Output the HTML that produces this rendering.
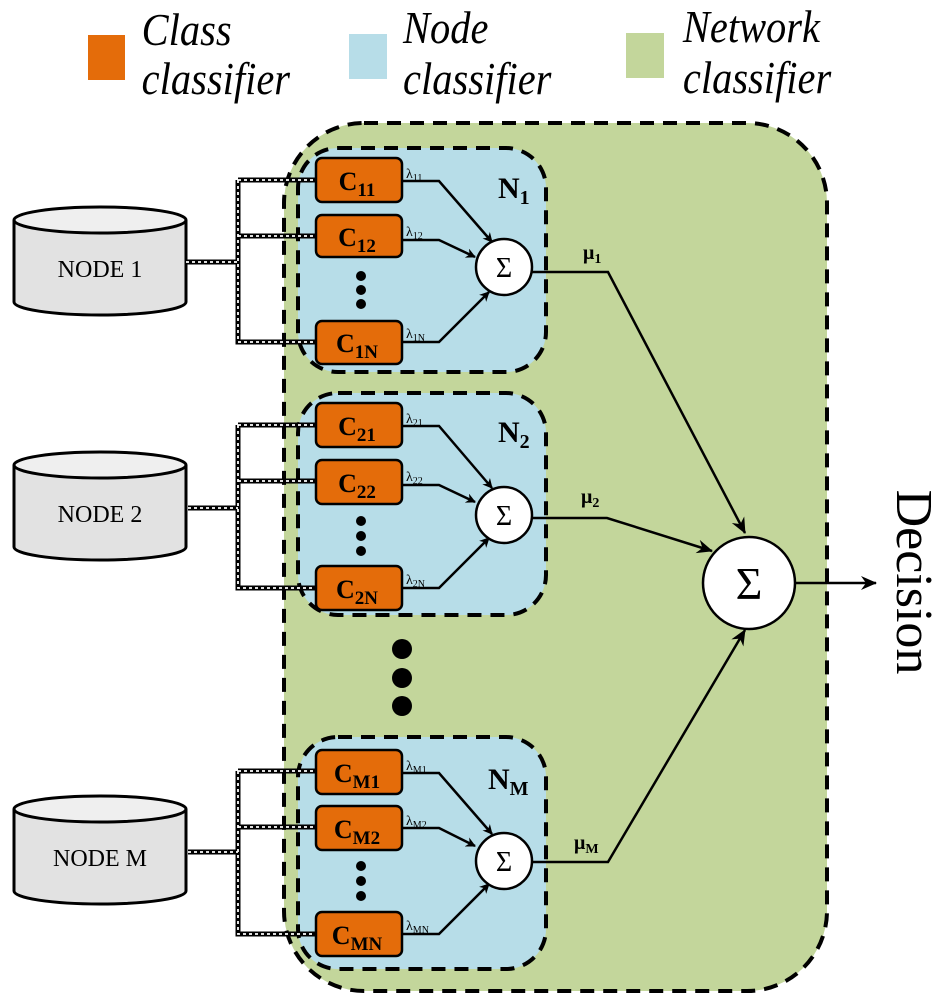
<!DOCTYPE html>
<html><head><meta charset="utf-8"><style>
html,body{margin:0;padding:0;background:#fff;}
svg{display:block;}
text{font-family:"Liberation Serif",serif;}
</style></head><body>
<svg width="947" height="1000" viewBox="0 0 947 1000" xmlns="http://www.w3.org/2000/svg">
<defs>
<marker id="ah" markerWidth="10" markerHeight="10" refX="9" refY="5" orient="auto" markerUnits="userSpaceOnUse" viewBox="0 0 10 10"><path d="M0,0 L10,5 L0,10 L3,5 Z" fill="#000"/></marker>
<marker id="ah2" markerWidth="16" markerHeight="16" refX="15" refY="8" orient="auto" markerUnits="userSpaceOnUse" viewBox="0 0 16 16"><path d="M0,1 L16,8 L0,15 L5,8 Z" fill="#000"/></marker>
</defs>
<!-- legend -->
<rect x="88" y="35" width="37" height="45" fill="#e46c0a"/>
<rect x="349" y="34" width="38" height="45" fill="#b7dde8"/>
<rect x="626" y="33" width="38" height="45" fill="#c3d69b"/>
<g font-style="italic" font-size="46" transform="scale(0.88,1)">
<text x="161" y="45">Class</text><text x="161" y="94">classifier</text>
<text x="458" y="43">Node</text><text x="458" y="94">classifier</text>
<text x="776" y="42">Network</text><text x="776" y="93">classifier</text>
</g>
<!-- network region -->
<rect x="284" y="123" width="543" height="868" rx="80" fill="#c3d69b" stroke="#000" stroke-width="4" stroke-dasharray="14,9"/>
<!-- node panels -->
<g fill="#b7dde8" stroke="#000" stroke-width="4" stroke-dasharray="14,9">
<rect x="298" y="148" width="248" height="224" rx="40"/>
<rect x="298" y="393" width="248" height="222" rx="40"/>
<rect x="298" y="737" width="248" height="232" rx="40"/>
</g>
<!-- cylinders -->
<g stroke="#000" stroke-width="3">
<g>
<path d="M14,220 L14,302 A86,13 0 0 0 186,302 L186,220" fill="#e2e2e2"/>
<ellipse cx="100" cy="220" rx="86" ry="13" fill="#efefef"/>
</g>
<g transform="translate(0,245)"><path d="M14,220 L14,302 A86,13 0 0 0 186,302 L186,220" fill="#e2e2e2"/><ellipse cx="100" cy="220" rx="86" ry="13" fill="#efefef"/></g>
<g transform="translate(0,589)"><path d="M14,220 L14,302 A86,13 0 0 0 186,302 L186,220" fill="#e2e2e2"/><ellipse cx="100" cy="220" rx="86" ry="13" fill="#efefef"/></g>
</g>
<g font-size="24" text-anchor="middle">
<text x="100" y="277">NODE 1</text>
<text x="100" y="522">NODE 2</text>
<text x="100" y="866">NODE M</text>
</g>
<!-- dotted connectors -->
<g fill="none">
<g stroke="#000" stroke-width="5">
<path d="M186,262 H238 M238,180 V342 H316 M238,180 H316 M238,236 H316"/>
<path d="M188,508 H238 M238,425 V588 H316 M238,425 H316 M238,481 H316"/>
<path d="M188,852 H238 M238,771 V934 H316 M238,771 H316 M238,827 H316"/>
</g>
<g stroke="#fff" stroke-width="1.8" stroke-dasharray="3,3">
<path d="M186,262 H238 M238,180 V342 H316 M238,180 H316 M238,236 H316"/>
<path d="M188,508 H238 M238,425 V588 H316 M238,425 H316 M238,481 H316"/>
<path d="M188,852 H238 M238,771 V934 H316 M238,771 H316 M238,827 H316"/>
</g>
</g>
<!-- class boxes -->
<g fill="#e46c0a" stroke="#000" stroke-width="2.5">
<rect x="316" y="158" width="86" height="44" rx="6"/>
<rect x="316" y="215" width="86" height="42" rx="6"/>
<rect x="316" y="321" width="86" height="43" rx="6"/>
<rect x="316" y="403" width="86" height="44" rx="6"/>
<rect x="316" y="460" width="86" height="44" rx="6"/>
<rect x="316" y="566" width="86" height="44" rx="6"/>
<rect x="316" y="750" width="86" height="44" rx="6"/>
<rect x="316" y="806" width="86" height="44" rx="6"/>
<rect x="316" y="912" width="86" height="44" rx="6"/>
</g>
<g font-size="26" font-weight="bold" text-anchor="middle">
<text x="357" y="190">C<tspan font-size="19" dy="6">11</tspan></text>
<text x="357" y="246">C<tspan font-size="19" dy="6">12</tspan></text>
<text x="357" y="352">C<tspan font-size="19" dy="6">1N</tspan></text>
<text x="357" y="435">C<tspan font-size="19" dy="6">21</tspan></text>
<text x="357" y="492">C<tspan font-size="19" dy="6">22</tspan></text>
<text x="357" y="598">C<tspan font-size="19" dy="6">2N</tspan></text>
<text x="357" y="782">C<tspan font-size="19" dy="6">M1</tspan></text>
<text x="357" y="838">C<tspan font-size="19" dy="6">M2</tspan></text>
<text x="357" y="944">C<tspan font-size="19" dy="6">MN</tspan></text>
</g>
<!-- small dots -->
<g fill="#000">
<circle cx="361" cy="276" r="5"/><circle cx="361" cy="290" r="5"/><circle cx="361" cy="304" r="5"/>
<circle cx="361" cy="521" r="5"/><circle cx="361" cy="536" r="5"/><circle cx="361" cy="551" r="5"/>
<circle cx="361" cy="866" r="5"/><circle cx="361" cy="881" r="5"/><circle cx="361" cy="896" r="5"/>
<circle cx="402" cy="649" r="10"/><circle cx="402" cy="678" r="10"/><circle cx="402" cy="706" r="10"/>
</g>
<!-- lambda lines -->
<g fill="none" stroke="#000" stroke-width="2.5" marker-end="url(#ah)">
<path d="M402,181 H439 L492,242"/>
<path d="M402,240 H439 L475,257"/>
<path d="M402,342 H439 L489,292"/>
<path d="M402,426 H439 L492,488"/>
<path d="M402,485 H439 L475,502"/>
<path d="M402,588 H439 L489,538"/>
<path d="M402,773 H439 L492,834"/>
<path d="M402,828 H439 L475,846"/>
<path d="M402,934 H439 L489,884"/>
</g>
<g font-size="14">
<text x="406" y="178">λ<tspan font-size="10" dy="3">11</tspan></text>
<text x="406" y="236">λ<tspan font-size="10" dy="3">12</tspan></text>
<text x="406" y="338">λ<tspan font-size="10" dy="3">1N</tspan></text>
<text x="406" y="423">λ<tspan font-size="10" dy="3">21</tspan></text>
<text x="406" y="481">λ<tspan font-size="10" dy="3">22</tspan></text>
<text x="406" y="584">λ<tspan font-size="10" dy="3">2N</tspan></text>
<text x="406" y="770">λ<tspan font-size="10" dy="3">M1</tspan></text>
<text x="406" y="825">λ<tspan font-size="10" dy="3">M2</tspan></text>
<text x="406" y="930">λ<tspan font-size="10" dy="3">MN</tspan></text>
</g>
<!-- N labels -->
<g font-size="30" font-weight="bold">
<text x="498" y="198">N<tspan font-size="20" dy="6">1</tspan></text>
<text x="498" y="442">N<tspan font-size="20" dy="6">2</tspan></text>
<text x="488" y="789">N<tspan font-size="20" dy="6">M</tspan></text>
</g>
<!-- mu lines -->
<g fill="none" stroke="#000" stroke-width="2.5">
<path d="M532,272 H608 L745,533" marker-end="url(#ah2)"/>
<path d="M532,518 H607 L712,551" marker-end="url(#ah2)"/>
<path d="M532,862 H608 L745,630" marker-end="url(#ah2)"/>
<path d="M795,583 H876" marker-end="url(#ah2)"/>
</g>
<g font-size="20" font-weight="bold">
<text x="583" y="259">μ<tspan font-size="14" dy="4">1</tspan></text>
<text x="581" y="503">μ<tspan font-size="14" dy="4">2</tspan></text>
<text x="574" y="849">μ<tspan font-size="14" dy="4">M</tspan></text>
</g>
<!-- sigma circles -->
<g fill="#fff" stroke="#000" stroke-width="2.5">
<circle cx="504" cy="267" r="28"/>
<circle cx="504" cy="515" r="28"/>
<circle cx="504" cy="861" r="28"/>
<circle cx="749" cy="583" r="46"/>
</g>
<g text-anchor="middle">
<text x="504" y="277" font-size="28">Σ</text>
<text x="504" y="525" font-size="28">Σ</text>
<text x="504" y="871" font-size="28">Σ</text>
<text x="749" y="599" font-size="46">Σ</text>
</g>
<text font-size="52" text-anchor="middle" transform="translate(897,582) rotate(90)">Decision</text>
</svg>
</body></html>
